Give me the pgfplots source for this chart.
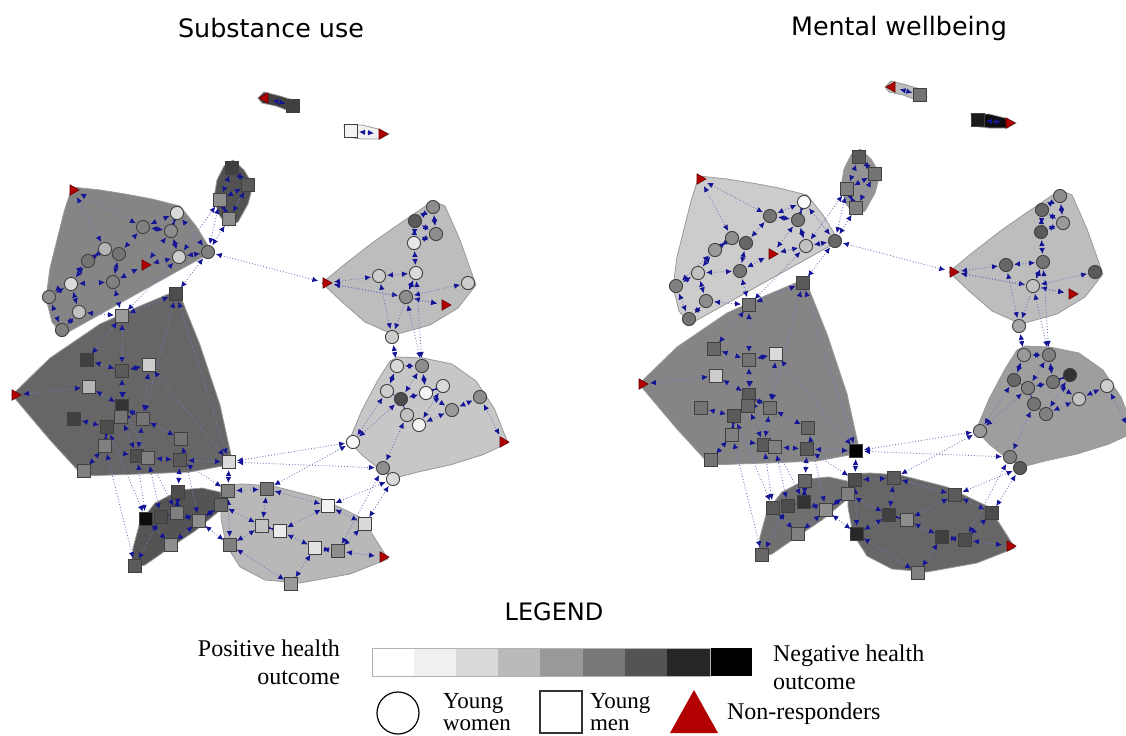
\documentclass[border=0pt]{standalone}
\usepackage{pgfplots}
\pgfplotsset{compat=1.18}
\usepackage{pgfplotstable}
\usepackage{fontspec}
\setmainfont{Liberation Serif}
\newfontfamily\headfont{DejaVu Sans}
\usetikzlibrary{arrows.meta}

\definecolor{edgeblue}{RGB}{120,120,190}
\definecolor{tipblue}{RGB}{20,20,150}
\definecolor{nrred}{RGB}{178,0,0}

% Positions are given for the substance-use network; the mental-wellbeing
% network is the same graph shifted by (+627,-11).
% Shade: 1 = white (positive outcome), 0 = black (negative outcome).
\pgfplotstableread{
x y su mw
177 213 .85 .97
143 227 .50 .45
171 231 .55 .45
105 249 .70 .55
119 254 .45 .40
88 261 .45 .60
179 257 .80 .75
208 252 .50 .40
71 284 .85 .75
113 282 .50 .45
49 297 .55 .50
79 312 .75 .55
62 330 .50 .45
433 207 .55 .55
415 221 .35 .40
436 234 .55 .60
414 243 .90 .35
379 276 .80 .40
416 273 .85 .45
406 297 .55 .75
468 283 .80 .35
392 337 .80 .65
397 366 .85 .60
422 366 .55 .50
443 386 .85 .20
387 391 .80 .40
426 393 .95 .45
401 399 .30 .50
407 415 .75 .45
419 425 .95 .50
452 410 .60 .75
480 397 .55 .80
353 442 .97 .60
383 468 .55 .50
393 479 .85 .35
}\women

\pgfplotstableread{
x y su mw
293 106 .25 .45
351 131 .95 .10
232 168 .25 .35
248 185 .35 .45
220 200 .55 .50
229 219 .55 .50
176 294 .30 .35
122 316 .60 .45
87 360 .25 .40
122 371 .35 .45
149 365 .80 .85
89 387 .70 .80
122 406 .20 .35
121 417 .45 .40
143 419 .45 .45
74 419 .25 .45
107 427 .30 .35
105 446 .50 .50
137 456 .30 .35
148 458 .50 .50
181 439 .45 .40
180 460 .35 .35
229 462 .85 .00
84 471 .50 .45
178 492 .30 .40
146 519 .05 .35
161 517 .30 .30
177 513 .50 .20
199 521 .55 .55
171 545 .55 .50
135 566 .35 .40
221 505 .40 .50
228 491 .50 .30
267 489 .45 .35
328 506 .95 .35
365 524 .85 .30
262 526 .75 .25
280 531 .92 .55
315 548 .88 .25
338 551 .55 .30
230 545 .50 .15
291 584 .60 .50
}\men

% non-responders
\pgfplotstableread{
x y
382 134
73 190
145 265
15 395
326 283
445 305
503 442
383 557
}\nrright
\pgfplotstableread{
x y
265 98
}\nrleft

% ties between respondents
\pgfplotstableread{
x1 y1 x2 y2
265 98 293 106
351 131 382 134
232 168 248 185
232 168 220 200
248 185 220 200
248 185 229 219
220 200 229 219
73 190 105 249
73 190 143 227
177 213 143 227
177 213 171 231
143 227 171 231
143 227 119 254
171 231 179 257
179 257 208 252
177 213 208 252
105 249 119 254
105 249 88 261
88 261 71 284
119 254 113 282
113 282 71 284
145 265 179 257
145 265 113 282
71 284 49 297
71 284 79 312
49 297 62 330
79 312 62 330
88 261 49 297
171 231 145 265
208 252 229 219
208 252 220 200
179 257 220 200
208 252 326 283
208 252 176 294
179 257 122 316
79 312 122 316
113 282 122 316
176 294 122 316
122 316 122 371
122 316 87 360
122 371 149 365
149 365 143 419
122 371 122 406
122 406 121 417
121 417 107 427
107 427 105 446
143 419 137 456
137 456 148 458
148 458 180 460
181 439 143 419
180 460 229 462
87 360 122 371
89 387 122 406
74 419 107 427
84 471 105 446
15 395 89 387
176 294 143 419
149 365 229 462
176 294 229 462
122 406 143 419
121 417 137 456
137 456 146 519
107 427 146 519
148 458 161 517
180 460 178 492
122 406 177 513
105 446 135 566
181 439 199 521
178 492 177 513
146 519 161 517
161 517 177 513
177 513 199 521
199 521 221 505
171 545 199 521
135 566 161 517
171 545 146 519
221 505 228 491
199 521 230 545
221 505 262 526
180 460 228 491
229 462 228 491
228 491 267 489
267 489 262 526
262 526 280 531
280 531 315 548
315 548 338 551
338 551 365 524
365 524 328 506
328 506 267 489
230 545 262 526
291 584 315 548
383 557 338 551
291 584 230 545
228 491 230 545
280 531 328 506
267 489 353 442
365 524 393 479
338 551 383 468
229 462 353 442
229 462 383 468
328 506 393 479
353 442 387 391
353 442 401 399
383 468 393 479
383 468 407 415
397 366 387 391
422 366 426 393
426 393 443 386
426 393 401 399
401 399 407 415
407 415 419 425
419 425 452 410
452 410 480 397
480 397 503 442
426 393 452 410
387 391 401 399
422 366 401 399
397 366 422 366
443 386 419 425
397 366 392 337
422 366 406 297
422 366 416 273
392 337 379 276
392 337 416 273
326 283 379 276
379 276 416 273
416 273 414 243
414 243 436 234
436 234 415 221
415 221 433 207
433 207 436 234
406 297 416 273
406 297 468 283
445 305 406 297
326 283 406 297
326 283 445 305
414 243 415 221
}\ties

% community hulls
\pgfplotstableread{
x y
258 98
264 92
280 96
296 101
300 108
292 112
276 106
262 103
}\hullA
\pgfplotstableread{
x y
344 125
362 125
378 129
389 134
380 139
362 139
345 137
}\hullB
\pgfplotstableread{
x y
224 166
233 160
244 170
253 185
248 204
238 222
228 226
219 215
214 198
217 180
}\hullC
\pgfplotstableread{
x y
72 187
100 190
125 194
152 199
180 206
196 226
212 252
140 292
63 335
52 322
46 298
50 268
57 240
64 212
}\hullD
\pgfplotstableread{
x y
12 395
50 358
100 324
140 306
178 290
200 345
220 405
233 464
190 472
140 474
83 476
50 440
}\hullE
\pgfplotstableread{
x y
131 569
133 548
140 522
155 503
180 490
202 488
224 493
218 512
195 531
168 549
145 565
}\hullF
\pgfplotstableread{
x y
221 485
243 484
273 486
320 498
362 518
388 559
350 574
300 583
265 580
240 567
226 545
221 518
}\hullG
\pgfplotstableread{
x y
322 283
345 264
372 243
402 222
433 201
445 206
460 240
476 285
458 308
430 325
394 335
365 322
342 302
}\hullH
\pgfplotstableread{
x y
390 361
398 357
423 358
452 364
476 381
494 408
508 443
482 455
450 465
418 472
395 478
378 468
362 455
349 441
362 410
378 380
}\hullI

\pgfplotsset{
  hull/.style={draw=black!40, line width=0.4pt},
  ties/.style={edgeblue, densely dotted, line width=0.45pt,
    {Latex[length=3pt,width=2.8pt,color=tipblue]}-{Latex[length=3pt,width=2.8pt,color=tipblue]},
    quiver={u=\thisrow{x2}-\thisrow{x1}, v=\thisrow{y2}-\thisrow{y1},
      every arrow/.append style={shorten >=4pt, shorten <=4pt}}},
  person/.style={scatter, only marks, point meta=explicit, line width=0.45pt,
    scatter/use mapped color={draw=black!75, fill=mapped color}},
  nrright/.style={only marks, mark=triangle*, mark size=3pt,
    mark options={rotate=-90, fill=nrred, draw=nrred!60!black, line width=0.3pt}},
  nrleft/.style={only marks, mark=triangle*, mark size=3pt,
    mark options={rotate=90, fill=nrred, draw=nrred!60!black, line width=0.3pt}},
}

\begin{document}
\begin{tikzpicture}
\begin{axis}[name=net, at={(0,0)}, anchor=south west,
  x=0.5pt, y=0.5pt, y dir=reverse,
  xmin=0, xmax=1126, ymin=0, ymax=735,
  hide axis, clip=true,
  colormap={bw}{gray(0cm)=(0); gray(1cm)=(1)},
  point meta min=0, point meta max=1]

% ---------- substance use ----------
\addplot[hull, fill=white!25!black] table[x=x,y=y] {\hullA} -- cycle;
\addplot[hull, fill=white!95!black] table[x=x,y=y] {\hullB} -- cycle;
\addplot[hull, fill=white!32!black] table[x=x,y=y] {\hullC} -- cycle;
\addplot[hull, fill=white!52!black] table[x=x,y=y] {\hullD} -- cycle;
\addplot[hull, fill=white!40!black] table[x=x,y=y] {\hullE} -- cycle;
\addplot[hull, fill=white!33!black] table[x=x,y=y] {\hullF} -- cycle;
\addplot[hull, fill=white!72!black] table[x=x,y=y] {\hullG} -- cycle;
\addplot[hull, fill=white!74!black] table[x=x,y=y] {\hullH} -- cycle;
\addplot[hull, fill=white!78!black] table[x=x,y=y] {\hullI} -- cycle;
\addplot[ties] table[x=x1,y=y1] {\ties};
\addplot[person, mark=*, mark size=3.3pt] table[x=x,y=y,meta=su] {\women};
\addplot[person, mark=square*, mark size=3.2pt] table[x=x,y=y,meta=su] {\men};
\addplot[nrright] table[x=x,y=y] {\nrright};
\addplot[nrleft] table[x=x,y=y] {\nrleft};

% ---------- mental wellbeing ----------
\addplot[hull, fill=white!74!black] table[x expr=\thisrow{x}+627, y expr=\thisrow{y}-11] {\hullA} -- cycle;
\addplot[hull, fill=white!5!black] table[x expr=\thisrow{x}+627, y expr=\thisrow{y}-11] {\hullB} -- cycle;
\addplot[hull, fill=white!58!black] table[x expr=\thisrow{x}+627, y expr=\thisrow{y}-11] {\hullC} -- cycle;
\addplot[hull, fill=white!80!black] table[x expr=\thisrow{x}+627, y expr=\thisrow{y}-11] {\hullD} -- cycle;
\addplot[hull, fill=white!52!black] table[x expr=\thisrow{x}+627, y expr=\thisrow{y}-11] {\hullE} -- cycle;
\addplot[hull, fill=white!44!black] table[x expr=\thisrow{x}+627, y expr=\thisrow{y}-11] {\hullF} -- cycle;
\addplot[hull, fill=white!40!black] table[x expr=\thisrow{x}+627, y expr=\thisrow{y}-11] {\hullG} -- cycle;
\addplot[hull, fill=white!74!black] table[x expr=\thisrow{x}+627, y expr=\thisrow{y}-11] {\hullH} -- cycle;
\addplot[hull, fill=white!62!black] table[x expr=\thisrow{x}+627, y expr=\thisrow{y}-11] {\hullI} -- cycle;
\addplot[ties] table[x expr=\thisrow{x1}+627, y expr=\thisrow{y1}-11] {\ties};
\addplot[person, mark=*, mark size=3.3pt] table[x expr=\thisrow{x}+627, y expr=\thisrow{y}-11, meta=mw] {\women};
\addplot[person, mark=square*, mark size=3.2pt] table[x expr=\thisrow{x}+627, y expr=\thisrow{y}-11, meta=mw] {\men};
\addplot[nrright] table[x expr=\thisrow{x}+627, y expr=\thisrow{y}-11] {\nrright};
\addplot[nrleft] table[x expr=\thisrow{x}+627, y expr=\thisrow{y}-11] {\nrleft};

% ---------- titles ----------
\node[font=\headfont\fontsize{12.7}{15}\selectfont] at (axis cs:271,28) {Substance use};
\node[font=\headfont\fontsize{12.7}{15}\selectfont] at (axis cs:899,28) {Mental wellbeing};

% ---------- legend ----------
\node[font=\headfont\fontsize{12}{14}\selectfont] at (axis cs:554,612) {LEGEND};
\node[anchor=east, align=right, font=\fontsize{12}{14}\selectfont] at (axis cs:347,662) {Positive health\\outcome};
\node[anchor=west, align=left, font=\fontsize{12}{14}\selectfont] at (axis cs:766,667) {Negative health\\outcome};
\fill[white!100!black, draw=black!25] (axis cs:372,648) rectangle (axis cs:414,676);
\fill[white!94!black] (axis cs:414,648) rectangle (axis cs:456,676);
\fill[white!85!black] (axis cs:456,648) rectangle (axis cs:498,676);
\fill[white!73!black] (axis cs:498,648) rectangle (axis cs:540,676);
\fill[white!60!black] (axis cs:540,648) rectangle (axis cs:583,676);
\fill[white!47!black] (axis cs:583,648) rectangle (axis cs:625,676);
\fill[white!33!black] (axis cs:625,648) rectangle (axis cs:667,676);
\fill[white!15!black] (axis cs:667,648) rectangle (axis cs:710,676);
\fill[black] (axis cs:710,648) rectangle (axis cs:752,676);
\draw[black!30, line width=0.4pt] (axis cs:372,648) rectangle (axis cs:710,676);

\draw[black, line width=0.6pt] (axis cs:398,713) circle[radius=10.5pt];
\node[anchor=west, align=left, font=\fontsize{11.5}{11}\selectfont] at (axis cs:436,712) {Young\\women};
\draw[black!80, line width=0.6pt] (axis cs:540,691) rectangle (axis cs:582,733);
\node[anchor=west, align=left, font=\fontsize{11.5}{11}\selectfont] at (axis cs:583,712) {Young\\men};
\fill[nrred] (axis cs:670,733) -- (axis cs:694,690) -- (axis cs:718,733) -- cycle;
\node[anchor=west, font=\fontsize{12}{14}\selectfont] at (axis cs:720,714) {Non-responders};
\end{axis}
\pgfresetboundingbox
\useasboundingbox (net.south west) rectangle (net.north east);
\end{tikzpicture}
\end{document}
